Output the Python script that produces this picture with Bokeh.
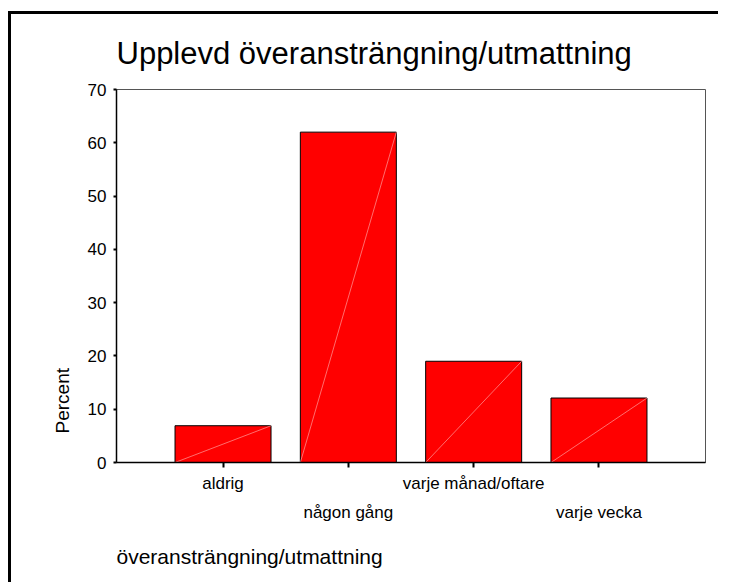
from bokeh.plotting import figure
from bokeh.models import FixedTicker, Title, Range1d
from bokeh.embed import file_html
from bokeh.resources import INLINE

# ---- data ----
categories = ["aldrig", "någon gång", "varje månad/oftare", "varje vecka"]
percent = [6.9, 62.0, 19.0, 12.1]
y_ticks = [0, 10, 20, 30, 40, 50, 60, 70]
title_text = "Upplevd överansträngning/utmattning"
x_label = "överansträngning/utmattning"
y_label = "Percent"

xs = list(range(1, len(categories) + 1))
bar_w = 0.766
FONT = "Liberation Sans"

p = figure(
    width=710, height=571,
    x_range=Range1d(0.15, 4.85), y_range=Range1d(0, 70),
    output_backend="svg", toolbar_location=None,
    min_border_left=105, min_border_top=74, min_border_right=16, min_border_bottom=119,
    styles={"border-left": "3px solid black", "border-top": "3px solid black",
            "margin-left": "8px", "margin-top": "11px"},
)
p.background_fill_color = "white"
p.border_fill_color = "white"
p.outline_line_color = "#555555"
p.outline_line_width = 1
p.xgrid.visible = False
p.ygrid.visible = False

p.vbar(x=xs, top=percent, width=bar_w, bottom=0,
       fill_color="#ff0000", line_color="black", line_width=1)
p.segment(x0=[x - bar_w / 2 for x in xs], y0=[0] * len(xs),
          x1=[x + bar_w / 2 for x in xs], y1=percent,
          line_color="#ff9c9c", line_width=0.7)

# title
p.title.text = title_text
p.title.text_font = FONT
p.title.text_font_size = "31px"
p.title.text_font_style = "normal"
p.title.text_color = "black"
p.title.align = "left"
p.title.standoff = 38

# x axis
xa = p.xaxis[0]
xa.ticker = FixedTicker(ticks=xs)
xa.major_label_overrides = {x: (c if i % 2 == 0 else "\n" + c) for i, (x, c) in enumerate(zip(xs, categories))}
xa.major_label_text_font = FONT
xa.major_label_text_font_size = "17px"
xa.major_label_text_color = "black"
xa.major_label_text_line_height = 1.55
xa.major_label_standoff = 6
xa.major_tick_in = 0
xa.major_tick_out = 5
xa.major_tick_line_width = 2
xa.major_tick_line_color = "black"
xa.minor_tick_line_color = None
xa.axis_line_width = 1.5
xa.axis_line_color = "black"

# y axis
ya = p.yaxis[0]
ya.ticker = FixedTicker(ticks=y_ticks)
ya.major_label_text_font = FONT
ya.major_label_text_font_size = "17px"
ya.major_label_text_color = "black"
ya.major_label_standoff = 7
ya.major_tick_in = 0
ya.major_tick_out = 3
ya.major_tick_line_width = 2
ya.major_tick_line_color = "black"
ya.minor_tick_line_color = None
ya.axis_line_width = 1.5
ya.axis_line_color = "black"

# axis titles
yt = Title(text=y_label, align="left", text_font=FONT, text_font_size="19px",
           text_font_style="normal", text_color="black", offset=29, standoff=23)
p.add_layout(yt, "left")
xt = Title(text=x_label, align="left", text_font=FONT, text_font_size="21px",
           text_font_style="normal", text_color="black", text_line_height=1.0,
           standoff=36)
p.add_layout(xt, "below")

open("out.html", "w").write(file_html(p, INLINE))
